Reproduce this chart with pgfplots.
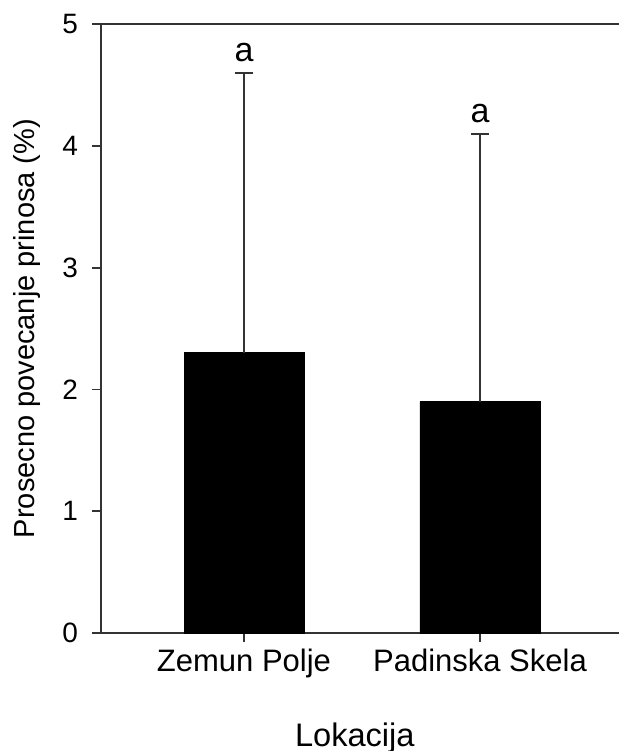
\documentclass[border=0pt]{standalone}
\usepackage{pgfplots}
\pgfplotsset{compat=1.18}
\usepackage{fontspec}
\setmainfont{Liberation Sans}
\begin{document}
\begin{tikzpicture}
\begin{axis}[
  scale only axis, width=259pt, height=304.5pt,
  xmin=-0.606, xmax=1.589, ymin=0, ymax=5,
  axis x line*=box, axis y line*=left,
  axis line style={black!80, line width=0.9pt},
  tick align=outside, major tick length=4.5pt,
  tick style={black!80, line width=0.9pt},
  xtick pos=left, ytick pos=left,
  xtick={0,1},
  xticklabels={Zemun Polje,Padinska Skela},
  ytick={0,1,2,3,4,5},
  /pgf/number format/assume math mode=true,
  xticklabel style={font=\fontsize{15.5}{17}\selectfont},
  yticklabel style={font=\fontsize{14}{16}\selectfont, xshift=-3.5pt},
  ylabel={Prosecno povecanje prinosa (\%)},
  xlabel={Lokacija},
  every axis y label/.style={at={(rel axis cs:-0.143,0.5)}, rotate=90, anchor=center, font=\fontsize{14.5}{16}\selectfont},
  every axis x label/.style={at={(rel axis cs:0.49,0)}, anchor=base, yshift=-56.5pt, font=\fontsize{16.3}{18}\selectfont},
  clip=false,
]
\addplot[ybar, bar width=60pt, fill=black, draw=black,
  error bars/.cd, y dir=plus, y explicit,
  error bar style={line width=1pt, black!80},
  error mark options={line width=1pt, mark size=4.5pt, black!80, rotate=90}]
  coordinates {(0,2.3) +- (0,2.3) (1,1.9) +- (0,2.2)};
\addplot[draw=none, nodes near coords={a},
  every node near coord/.append style={anchor=base, yshift=5.5pt, font=\fontsize{17}{19}\selectfont}]
  coordinates {(0,4.6) (1,4.1)};
\coordinate (O) at (rel axis cs:0,0);
\end{axis}
\pgfresetboundingbox
\path (O) ++(-50.5pt,-59pt) rectangle ++(309.5pt,375.5pt);
\end{tikzpicture}
\end{document}
